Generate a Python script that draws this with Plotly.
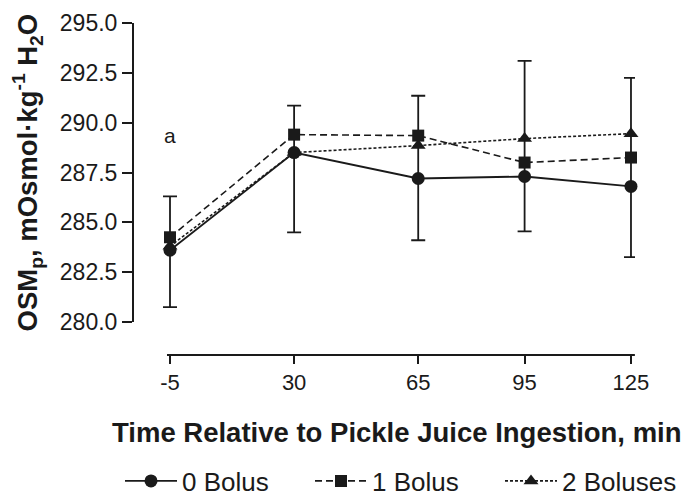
import plotly.graph_objects as go

# ---- data ----
time_min = [-5, 30, 65, 95, 125]
bolus0 = [283.6, 288.5, 287.2, 287.3, 286.8]
bolus1 = [284.25, 289.4, 289.35, 288.0, 288.25]
bolus2 = [283.8, 288.5, 288.85, 289.2, 289.45]
err_upper = [286.3, 290.85, 291.35, 293.1, 292.25]   # upper cap values
err_lower = [280.75, 284.5, 284.1, 284.55, 283.25]   # lower cap values
x_ticks = [-5, 30, 65, 95, 125]
y_ticks = [280.0, 282.5, 285.0, 287.5, 290.0, 292.5, 295.0]
series_names = ["0 Bolus", "1 Bolus", "2 Boluses"]
note_text = "a"
note_pos = (-5, 289.35)

FONT = "Arial, Liberation Sans, Helvetica, sans-serif"
INK = "#1a1a1a"

W, H = 684, 496
ML, MR, MT, MB = 133, 49, 23, 141
plot_w = W - ML - MR
plot_h = H - MT - MB

# pixel scale 3.546 px/unit, -5 at px 170 (axis line at px 133)
px_per_unit = 3.546
x_left = x_ticks[0] - (170 - ML) / px_per_unit
x_right = x_left + plot_w / px_per_unit

fig = go.Figure()

# error bars (drawn on the 0 Bolus series)
fig.add_trace(go.Scatter(
    x=time_min, y=bolus0, mode="markers", showlegend=False, hoverinfo="skip",
    marker=dict(size=1, color="rgba(0,0,0,0)"),
    error_y=dict(type="data", symmetric=False,
                 array=[u - m for u, m in zip(err_upper, bolus0)],
                 arrayminus=[m - l for m, l in zip(bolus0, err_lower)],
                 color=INK, thickness=1.8, width=7),
    cliponaxis=False,
))

fig.add_trace(go.Scatter(
    x=time_min, y=bolus2, name=series_names[2], mode="lines+markers",
    line=dict(color=INK, width=1.6, dash="3px,2px"),
    marker=dict(symbol="triangle-up", size=13, color=INK),
    cliponaxis=False,
))
fig.add_trace(go.Scatter(
    x=time_min, y=bolus1, name=series_names[1], mode="lines+markers",
    line=dict(color=INK, width=1.6, dash="7px,4px"),
    marker=dict(symbol="square", size=12, color=INK),
    cliponaxis=False,
))
fig.add_trace(go.Scatter(
    x=time_min, y=bolus0, name=series_names[0], mode="lines+markers",
    line=dict(color=INK, width=1.8),
    marker=dict(symbol="circle", size=13, color=INK),
    cliponaxis=False,
))

y_dom0 = (H - MB - 322) / plot_h

fig.update_layout(
    width=W, height=H,
    margin=dict(l=ML, r=MR, t=MT, b=MB, autoexpand=False),
    paper_bgcolor="white", plot_bgcolor="white",
    font=dict(family=FONT, color=INK),
    xaxis=dict(
        domain=[0, 1], range=[x_left, x_right], anchor="free", position=0,
        showline=False, showgrid=False, zeroline=False,
        tickmode="array", tickvals=x_ticks, ticktext=[str(t) for t in x_ticks],
        ticks="outside", ticklen=8, tickwidth=2, tickcolor=INK,
        tickfont=dict(size=22, family=FONT, color=INK),
    ),
    yaxis=dict(
        domain=[y_dom0, 1], range=[280, 295], anchor="free", position=0,
        showline=True, linewidth=2, linecolor=INK, showgrid=False, zeroline=False,
        tickmode="array", tickvals=y_ticks, ticktext=[f"{v:.1f}" for v in y_ticks],
        ticks="outside", ticklen=10, tickwidth=2, tickcolor=INK,
        tickfont=dict(size=23, family=FONT, color=INK),
    ),
    legend=dict(
        orientation="h", x=(120 - ML) / plot_w, xanchor="left",
        y=(H - MB - 481) / plot_h, yanchor="middle",
        font=dict(size=26, family=FONT, color=INK),
        traceorder="reversed", bgcolor="rgba(0,0,0,0)",
        entrywidth=123, entrywidthmode="pixels", itemwidth=52,
    ),
    shapes=[dict(type="line", xref="x", yref="paper",
                 x0=x_ticks[0] - 0.85, x1=x_ticks[-1] + 1.1, y0=0, y1=0,
                 line=dict(color=INK, width=2))],
    annotations=[
        dict(x=note_pos[0], y=note_pos[1], xref="x", yref="y", text=note_text,
             showarrow=False, font=dict(size=21, family=FONT, color=INK)),
        dict(x=(397 - ML) / plot_w, y=(H - MB - 432) / plot_h, xref="paper", yref="paper",
             text="<b>Time Relative to Pickle Juice Ingestion, min</b>",
             showarrow=False, xanchor="center", yanchor="middle",
             font=dict(size=27.5, family=FONT, color=INK)),
        dict(x=(27 - ML) / plot_w, y=(y_dom0 + 1) / 2, xref="paper", yref="paper",
             text="<b>OSM<sub>p</sub>, mOsmol·kg<sup>-1</sup> H<sub>2</sub>O</b>",
             showarrow=False, textangle=-90, xanchor="center", yanchor="middle",
             font=dict(size=27.5, family=FONT, color=INK)),
    ],
)

fig.write_html("out.html")
